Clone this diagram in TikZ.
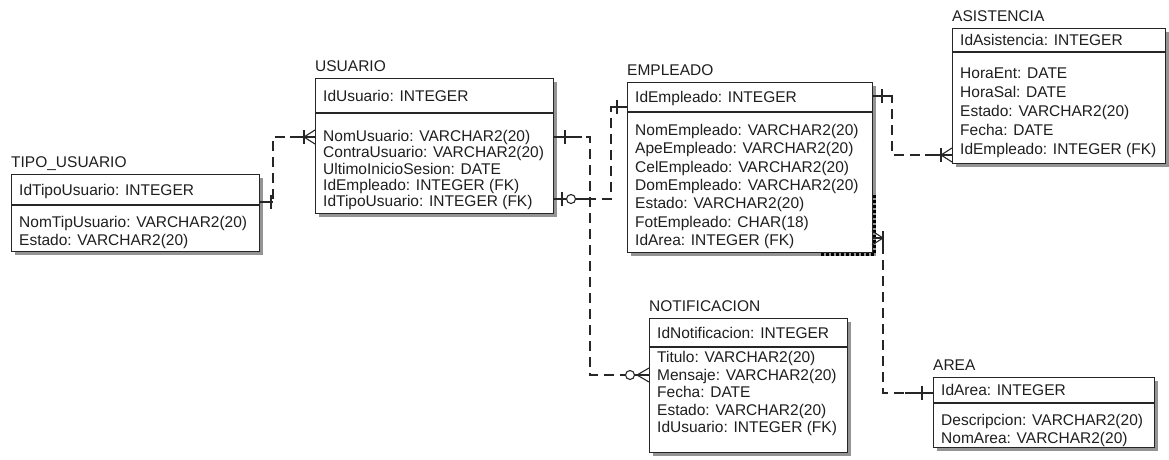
\documentclass[tikz,border=0pt]{standalone}
\usepackage{fontspec}
\setmainfont{Liberation Sans}
\tikzset{
  txt/.style={inner sep=0pt, font=\fontsize{15.5}{18}\selectfont, text=black!88},
  entbox/.style={draw=black!85, line width=1.1pt, fill=white, inner sep=0pt, anchor=north west},
  shade/.style={fill=black!42},
  rel/.style={draw=black!85, line width=1.1pt},
  reldash/.style={rel, dash pattern=on 10pt off 6pt},
}
\newcommand\erent[9]{%
  \fill[shade] (#2+4,#3+4) rectangle (#4+4,#5+4);
  \node[entbox, minimum width={(#4-#2)*1pt}, minimum height={(#5-#3)*1pt}] (#1) at (#2,#3) {};
  \draw[rel] (#1.west |- 0,#6) -- (#1.east |- 0,#6);
  \node[txt, anchor=base west] (#1-title) at (#2,#3-7) {#7};
  \node[txt, anchor=base west] (#1-key) at (#2+8,{(#3+#6)/2+5.5}) {#8};
  \foreach \rowtxt [count=\i] in {#9}
    \node[txt, anchor=base west] (#1-r\i) at (#2+8,{\rowA+(\i-1)*\rowS+5.5}) {\rowtxt};
}
\newcommand\onebar[2]{\draw[rel] (#1,#2-7) -- (#1,#2+7);}
\newcommand\crowft[3]{\draw[rel] (#2,#3-7) -- (#1,#3) -- (#2,#3+7);}
\newcommand\zerocirc[2]{\draw[rel, fill=white] (#1,#2) circle (4.5);}
\begin{document}
\begin{tikzpicture}[x=1pt,y=-1pt]
\useasboundingbox (0,0) rectangle (1169,459);

\def\rowA{222}\def\rowS{18}
\erent{tipo}{11}{174}{259}{251}{205}{TIPO\_USUARIO}{IdTipoUsuario: INTEGER}{NomTipUsuario: VARCHAR2(20),Estado: VARCHAR2(20)}

\def\rowA{136}\def\rowS{16.3}
\erent{usuario}{315}{78}{553}{213}{113}{USUARIO}{IdUsuario: INTEGER}{NomUsuario: VARCHAR2(20),ContraUsuario: VARCHAR2(20),UltimoInicioSesion: DATE,IdEmpleado: INTEGER (FK),IdTipoUsuario: INTEGER (FK)}

\def\rowA{130}\def\rowS{18.3}
\erent{empleado}{627}{82}{872}{252}{112}{EMPLEADO}{IdEmpleado: INTEGER}{NomEmpleado: VARCHAR2(20),ApeEmpleado: VARCHAR2(20),CelEmpleado: VARCHAR2(20),DomEmpleado: VARCHAR2(20),Estado: VARCHAR2(20),FotEmpleado: CHAR(18),IdArea: INTEGER (FK)}
\draw[line width=3pt, dash pattern=on 3pt off 2pt, black] (874.5,195) -- (874.5,254.5) -- (820,254.5);

\def\rowA{73}\def\rowS{19}
\erent{asistencia}{952}{28}{1165}{163}{52}{ASISTENCIA}{IdAsistencia: INTEGER}{HoraEnt: DATE,HoraSal: DATE,Estado: VARCHAR2(20),Fecha: DATE,IdEmpleado: INTEGER (FK)}

\def\rowA{357}\def\rowS{17.5}
\erent{notif}{649}{318}{847}{452}{347}{NOTIFICACION}{IdNotificacion: INTEGER}{Titulo: VARCHAR2(20),Mensaje: VARCHAR2(20),Fecha: DATE,Estado: VARCHAR2(20),IdUsuario: INTEGER (FK)}

\def\rowA{420}\def\rowS{18}
\erent{area}{933}{377}{1154}{447}{403}{AREA}{IdArea: INTEGER}{Descripcion: VARCHAR2(20),NomArea: VARCHAR2(20)}

% TIPO_USUARIO -- USUARIO
\draw[reldash] (tipo.east |- 0,202) -- (273,202) -- (273,137) -- (usuario.west |- 0,137);
\draw[rel] (tipo.east |- 0,202) -- (273,202);
\draw[rel] (290,137) -- (usuario.west |- 0,137);
\onebar{271}{202}
\onebar{304}{137}
\crowft{304}{315}{137}

% USUARIO -- NOTIFICACION
\draw[reldash] (usuario.east |- 0,137) -- (590,137) -- (590,375) -- (notif.west |- 0,375);
\draw[rel] (usuario.east |- 0,137) -- (582,137);
\draw[rel] (620,375) -- (notif.west |- 0,375);
\onebar{565}{137}
\zerocirc{630}{375}
\crowft{637}{649}{375}

% USUARIO -- EMPLEADO
\draw[reldash] (usuario.east |- 0,199) -- (611,199) -- (611,107) -- (empleado.west |- 0,107);
\draw[rel] (usuario.east |- 0,199) -- (592,199);
\draw[rel] (611,107) -- (empleado.west |- 0,107);
\onebar{562}{199}
\zerocirc{571}{199}
\onebar{617}{107}

% EMPLEADO -- ASISTENCIA
\draw[reldash] (empleado.east |- 0,96) -- (892,96) -- (892,155) -- (asistencia.west |- 0,155);
\draw[rel] (empleado.east |- 0,96) -- (892,96);
\draw[rel] (925,155) -- (asistencia.west |- 0,155);
\onebar{882}{96}
\onebar{941}{155}
\crowft{941}{952}{155}

% EMPLEADO -- AREA
\draw[reldash] (empleado.east |- 0,238) -- (883,238) -- (883,393) -- (area.west |- 0,393);
\draw[rel] (empleado.east |- 0,238) -- (883,238);
\draw[rel] (905,393) -- (area.west |- 0,393);
\crowft{883}{872}{238}
\onebar{883}{238}
\onebar{922}{393}
\end{tikzpicture}
\end{document}
